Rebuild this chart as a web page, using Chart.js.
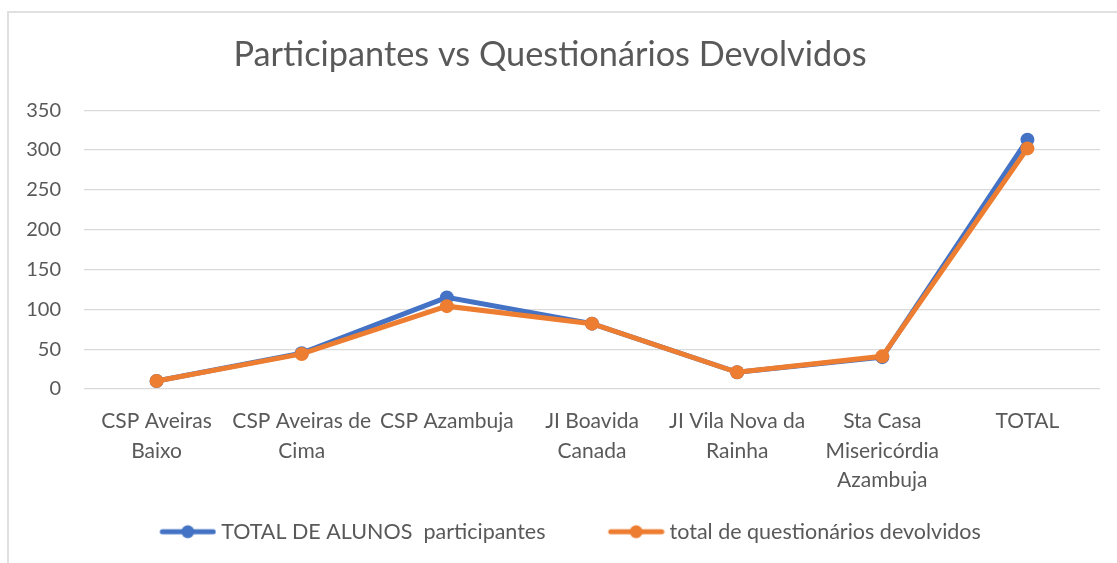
<!DOCTYPE html>
<html>
<head>
<meta charset="utf-8">
<script src="https://cdn.jsdelivr.net/npm/chart.js@4"></script>
<style>
  html, body { margin: 0; padding: 0; background: #fff; }
  #wrap { position: relative; width: 1117px; height: 563px; }
  #frame { position: absolute; left: 7px; top: 11px; right: -5px; bottom: -5px;
           border-left: 2px solid #e0e0e0; border-top: 2px solid #e0e0e0; }
  canvas { position: absolute; left: 0; top: 0; }
</style>
</head>
<body>
<div id="wrap">
  <div id="frame"></div>
  <canvas id="c" width="1117" height="563"></canvas>
</div>
<script>
const categories = [
  ["CSP Aveiras", "Baixo"],
  ["CSP Aveiras de", "Cima"],
  "CSP Azambuja",
  ["JI Boavida", "Canada"],
  ["JI Vila Nova da", "Rainha"],
  ["Sta Casa", "Misericórdia", "Azambuja"],
  "TOTAL"
];
const seriesNames = ["TOTAL DE ALUNOS  participantes", "total de questionários devolvidos"];
const participantes = [10, 45, 115, 82, 21, 40, 313];
const devolvidos = [10, 44, 104, 82, 21, 41, 302];
const yTicks = { min: 0, max: 350, step: 50 };

const BLUE = "#4472C4", ORANGE = "#ED7D31", TEXT = "#595959", GRID = "#d9d9d9";
const LEG_FONT = 21.5, LEG_BOX = 91.25;

// legend swatch: line with a dot, placed at the right end of a wider transparent canvas
function legendIcon(color) {
  const c = document.createElement("canvas");
  c.width = Math.round(LEG_BOX + LEG_FONT - 10); c.height = 16;
  const g = c.getContext("2d");
  const x1 = c.width - 57;
  g.strokeStyle = color; g.lineWidth = 5; g.lineCap = "round";
  g.beginPath(); g.moveTo(x1 + 3, 8); g.lineTo(c.width - 3, 8); g.stroke();
  g.fillStyle = color;
  g.beginPath(); g.arc(x1 + 28.5, 8, 6.5, 0, Math.PI * 2); g.fill();
  return c;
}
const icons = [legendIcon(BLUE), legendIcon(ORANGE)];

new Chart(document.getElementById("c"), {
  type: "line",
  data: {
    labels: categories,
    datasets: [
      { label: seriesNames[0], data: participantes, borderColor: BLUE, backgroundColor: BLUE,
        borderWidth: 5, pointRadius: 7, pointBorderWidth: 0, pointBackgroundColor: BLUE, order: 1, tension: 0 },
      { label: seriesNames[1], data: devolvidos, borderColor: ORANGE, backgroundColor: ORANGE,
        borderWidth: 5, pointRadius: 7, pointBorderWidth: 0, pointBackgroundColor: ORANGE, order: 0, tension: 0 }
    ]
  },
  options: {
    responsive: false,
    animation: false,
    layout: { padding: { left: 0, right: 17, top: 0, bottom: 10.5 } },
    plugins: {
      tooltip: { enabled: false },
      title: {
        display: true,
        text: "Participantes vs Questionários Devolvidos",
        color: TEXT,
        font: { family: "Lato", size: 34.3, weight: 400, lineHeight: 1.2 },
        padding: { top: 34, bottom: 35 }
      },
      legend: {
        display: true,
        position: "bottom",
        labels: {
          color: TEXT,
          font: { family: "Lato", size: LEG_FONT },
          usePointStyle: true,
          pointStyleWidth: LEG_BOX,
          padding: 22,
          sort: (a, b) => a.datasetIndex - b.datasetIndex,
          generateLabels: (chart) => chart.data.datasets.map((ds, i) => ({
            text: ds.label, datasetIndex: i, pointStyle: icons[i], fontColor: TEXT,
            fillStyle: ds.borderColor, strokeStyle: ds.borderColor, lineWidth: 0, hidden: false
          }))
        }
      }
    },
    scales: {
      x: {
        type: "category",
        offset: true,
        grid: { display: false, drawTicks: false, offset: true },
        border: { display: false },
        ticks: { color: TEXT, font: { family: "Lato", size: 21, lineHeight: 1.4 },
                 padding: 18, autoSkip: false, maxRotation: 0, minRotation: 0 },
        afterFit: (s) => { s.height = 110; }
      },
      y: {
        min: yTicks.min, max: yTicks.max,
        grid: { color: GRID, lineWidth: 1.3, drawTicks: false },
        border: { display: false },
        ticks: { stepSize: yTicks.step, color: TEXT, font: { family: "Lato", size: 20 }, padding: 23 },
        afterFit: (s) => { s.width = 84; }
      }
    }
  }
});
</script>
</body>
</html>
